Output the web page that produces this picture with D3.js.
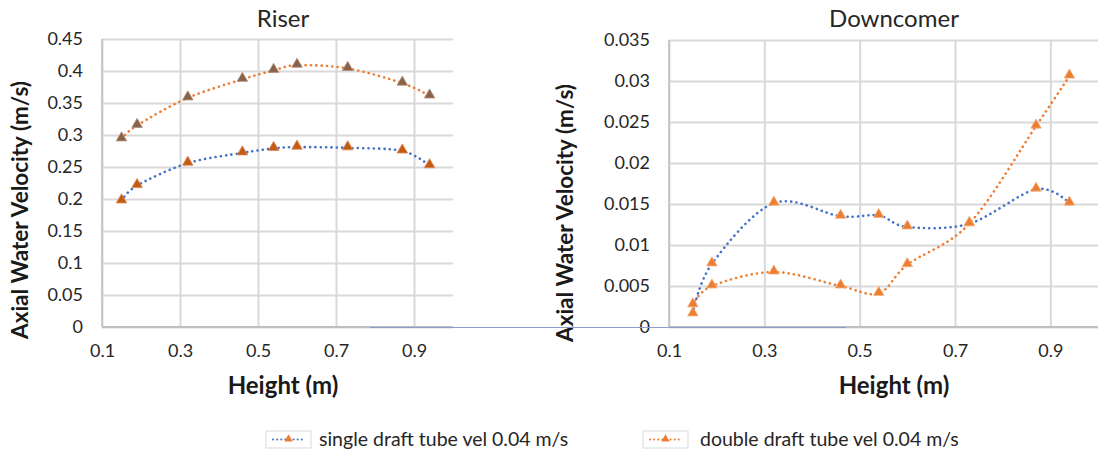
<!DOCTYPE html>
<html>
<head>
<meta charset="utf-8">
<script src="https://cdn.jsdelivr.net/npm/d3@7/dist/d3.min.js"></script>
<style>
  html, body { margin: 0; padding: 0; background: #fff; }
  svg { display: block; font-family: Lato, "Open Sans", sans-serif; }
</style>
</head>
<body>
<svg id="chart" width="1098" height="455"></svg>
<script>
// ---- data ----
const heights = [0.15, 0.19, 0.32, 0.46, 0.54, 0.60, 0.73, 0.87, 0.94];

const riserSingle = [0.197, 0.221, 0.256, 0.272, 0.279, 0.281, 0.280, 0.275, 0.252];
const riserDouble = [0.294, 0.315, 0.358, 0.387, 0.401, 0.409, 0.404, 0.381, 0.361];

const downSingle = [0.0016, 0.0077, 0.0151, 0.0135, 0.0136, 0.0122, 0.0126, 0.0168, 0.0151];
const downDouble = [0.0027, 0.0050, 0.0067, 0.0050, 0.0041, 0.0076, 0.0126, 0.0245, 0.0306];

const xTicks = [0.1, 0.3, 0.5, 0.7, 0.9];
const xTickLabels = ["0.1", "0.3", "0.5", "0.7", "0.9"];
const riserTicks = [0, 0.05, 0.1, 0.15, 0.2, 0.25, 0.3, 0.35, 0.4, 0.45];
const riserTickLabels = ["0", "0.05", "0.1", "0.15", "0.2", "0.25", "0.3", "0.35", "0.4", "0.45"];
const downTicks = [0, 0.005, 0.01, 0.015, 0.02, 0.025, 0.03, 0.035];
const downTickLabels = ["0", "0.005", "0.01", "0.015", "0.02", "0.025", "0.03", "0.035"];

const seriesNames = ["single draft tube vel 0.04 m/s", "double draft tube vel 0.04 m/s"];

// ---- styling ----
const BLUE = "#4472c4";
const ORANGE = "#ed7d31";
const GRID = "#d9d9d9";

const svg = d3.select("#chart");

function drawPanel(opts) {
  const x = d3.scaleLinear().domain([0.1, 1.0]).range([opts.left, opts.right]);
  const y = d3.scaleLinear().domain([0, opts.yMax]).range([327, opts.top]);
  const g = svg.append("g");

  // horizontal grid
  g.append("g")
    .attr("transform", `translate(${opts.left},0)`)
    .call(d3.axisLeft(y).tickValues(opts.yTicks).tickSize(-(opts.right - opts.left)).tickFormat(""))
    .call(s => s.select(".domain").remove())
    .call(s => s.selectAll(".tick line").attr("stroke", GRID).attr("stroke-width", 2));

  // vertical grid
  g.append("g")
    .attr("transform", "translate(0,327)")
    .call(d3.axisBottom(x).tickValues(xTicks).tickSize(-(327 - opts.top)).tickFormat(""))
    .call(s => s.select(".domain").remove())
    .call(s => s.selectAll(".tick line").attr("stroke", GRID).attr("stroke-width", 2));

  // axis lines
  g.append("line").attr("x1", opts.left).attr("x2", opts.left).attr("y1", opts.top).attr("y2", 327)
    .attr("stroke", "#bfbfbf").attr("stroke-width", 1.5);
  g.append("line").attr("x1", opts.left).attr("x2", opts.right).attr("y1", 327).attr("y2", 327)
    .attr("stroke", "#bfbfbf").attr("stroke-width", 2);

  // tick labels
  g.append("g")
    .attr("transform", `translate(${opts.left},0)`)
    .call(d3.axisLeft(y).tickValues(opts.yTicks).tickSize(0).tickPadding(19)
      .tickFormat((d, i) => opts.yLabels[i]))
    .call(s => s.select(".domain").remove())
    .call(s => s.selectAll("text").attr("font-size", 18).attr("fill", "#262626")
      .attr("font-family", "Lato, sans-serif"));

  g.append("g")
    .attr("transform", "translate(0,327)")
    .call(d3.axisBottom(x).tickValues(xTicks).tickSize(0).tickPadding(17)
      .tickFormat((d, i) => xTickLabels[i]))
    .call(s => s.select(".domain").remove())
    .call(s => s.selectAll("text").attr("font-size", 18).attr("fill", "#262626")
      .attr("font-family", "Lato, sans-serif"));

  // titles
  g.append("text").attr("x", opts.titleX).attr("y", 27).attr("text-anchor", "middle")
    .attr("font-size", 24).attr("fill", "#262626").text(opts.title);
  g.append("text").attr("x", opts.titleX).attr("y", 394).attr("text-anchor", "middle")
    .attr("font-size", 24).attr("font-weight", "bold").attr("fill", "#1a1a1a").text("Height (m)");
  g.append("text")
    .attr("transform", `translate(${opts.yTitleX},${opts.yTitleY}) rotate(-90)`)
    .attr("text-anchor", "middle").attr("font-size", 22.5).attr("font-weight", "bold")
    .attr("fill", "#1a1a1a").text("Axial Water Velocity (m/s)");

  // series
  const line = d3.line().x(d => x(d[0])).y(d => y(d[1])).curve(d3.curveCardinal);
  const tri = d3.symbol(d3.symbolTriangle, 48);
  opts.series.forEach(s => {
    const pts = heights.map((h, i) => [h, s.values[i]]);
    g.append("path").datum(pts).attr("d", line).attr("fill", "none")
      .attr("stroke", s.color).attr("stroke-width", 2.6)
      .attr("stroke-linecap", "round").attr("stroke-dasharray", "0.1 5.2");
  });
  opts.series.forEach(s => {
    const pts = heights.map((h, i) => [h, s.values[i]]);
    g.selectAll(null).data(pts).enter().append("path")
      .attr("d", tri)
      .attr("transform", d => `translate(${x(d[0])},${y(d[1]) - 1})`)
      .attr("fill", s.marker).attr("stroke", s.markerStroke).attr("stroke-width", 0.8);
  });
}

drawPanel({
  left: 102, right: 453, top: 39, yMax: 0.45,
  yTicks: riserTicks, yLabels: riserTickLabels,
  title: "Riser", titleX: 283, yTitleX: 28, yTitleY: 210,
  series: [
    { values: riserSingle, color: BLUE, marker: "#c55a11", markerStroke: "#d98a5a" },
    { values: riserDouble, color: ORANGE, marker: "#8a6247", markerStroke: "#b0917c" }
  ]
});

drawPanel({
  left: 669, right: 1098, top: 40, yMax: 0.035,
  yTicks: downTicks, yLabels: downTickLabels,
  title: "Downcomer", titleX: 894, yTitleX: 573, yTitleY: 213,
  series: [
    { values: downSingle, color: BLUE, marker: ORANGE, markerStroke: "#f4b183" },
    { values: downDouble, color: ORANGE, marker: ORANGE, markerStroke: "#f4b183" }
  ]
});

// stray blue-grey rule along the zero line between the panels
svg.append("line").attr("x1", 370).attr("x2", 846).attr("y1", 327.5).attr("y2", 327.5)
  .attr("stroke", "#8e9cc8").attr("stroke-width", 1.2);

// ---- legend ----
const legendItems = [
  { name: seriesNames[0], color: BLUE, x: 266, gap: 53 },
  { name: seriesNames[1], color: ORANGE, x: 643, gap: 57 }
];
const lg = svg.append("g");
legendItems.forEach(it => {
  const item = lg.append("g").attr("transform", `translate(${it.x},431)`);
  item.append("rect").attr("width", 45).attr("height", 17).attr("fill", "#fff")
    .attr("stroke", "#d9d9d9").attr("stroke-width", 1);
  item.append("line").attr("x1", 7).attr("x2", 39).attr("y1", 8.5).attr("y2", 8.5)
    .attr("stroke", it.color).attr("stroke-width", 2)
    .attr("stroke-linecap", "round").attr("stroke-dasharray", "0.1 4");
  item.append("path").attr("d", d3.symbol(d3.symbolTriangle, 30))
    .attr("transform", "translate(22.5,8)").attr("fill", ORANGE);
  item.append("text").attr("x", it.gap).attr("y", 15).attr("font-size", 19.5)
    .attr("fill", "#262626").text(it.name);
});
</script>
</body>
</html>
